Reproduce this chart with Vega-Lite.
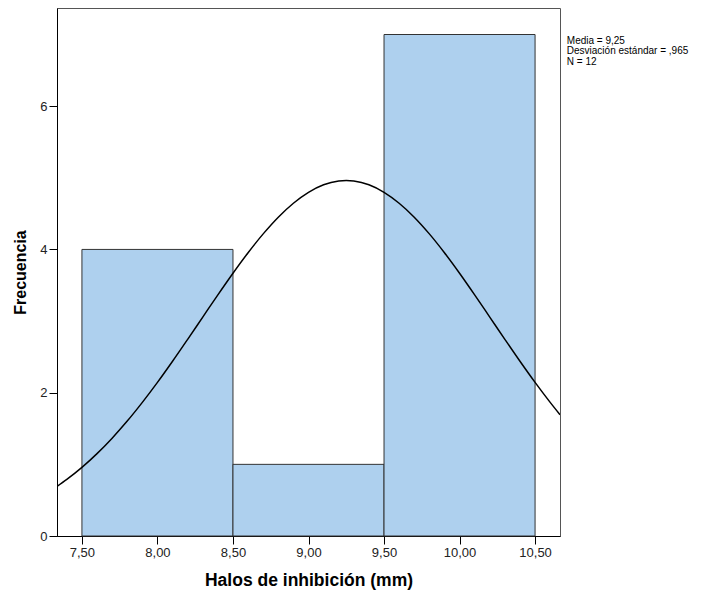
{
  "$schema": "https://vega.github.io/schema/vega-lite/v6.json",
  "width": 503,
  "height": 528,
  "autosize": {"type": "none"},
  "padding": {"left": 57, "top": 8, "right": 168, "bottom": 58},
  "background": "white",
  "config": {
    "font": "Liberation Sans",
    "view": {"stroke": "#555555", "strokeWidth": 1},
    "axis": {"grid": false, "domainColor": "#000000", "tickColor": "#000000", "labelColor": "#222222", "labelFontSize": 13, "titleFontWeight": "bold", "titleColor": "#000000", "tickSize": 8}
  },
  "datasets": {
    "bins": [
      {"start": 7.5, "end": 8.5, "count": 4},
      {"start": 8.5, "end": 9.5, "count": 1},
      {"start": 9.5, "end": 10.5, "count": 7}
    ],
    "curve": [
      {"x": 7.335, "y": 0.692},
      {"x": 7.4, "y": 0.790},
      {"x": 7.5, "y": 0.958},
      {"x": 7.6, "y": 1.150},
      {"x": 7.7, "y": 1.366},
      {"x": 7.8, "y": 1.604},
      {"x": 7.9, "y": 1.865},
      {"x": 8.0, "y": 2.144},
      {"x": 8.1, "y": 2.439},
      {"x": 8.2, "y": 2.745},
      {"x": 8.3, "y": 3.056},
      {"x": 8.4, "y": 3.366},
      {"x": 8.5, "y": 3.668},
      {"x": 8.6, "y": 3.954},
      {"x": 8.7, "y": 4.217},
      {"x": 8.8, "y": 4.450},
      {"x": 8.9, "y": 4.645},
      {"x": 9.0, "y": 4.797},
      {"x": 9.1, "y": 4.902},
      {"x": 9.2, "y": 4.954},
      {"x": 9.25, "y": 4.961},
      {"x": 9.3, "y": 4.954},
      {"x": 9.4, "y": 4.902},
      {"x": 9.5, "y": 4.797},
      {"x": 9.6, "y": 4.645},
      {"x": 9.7, "y": 4.450},
      {"x": 9.8, "y": 4.217},
      {"x": 9.9, "y": 3.954},
      {"x": 10.0, "y": 3.668},
      {"x": 10.1, "y": 3.366},
      {"x": 10.2, "y": 3.056},
      {"x": 10.3, "y": 2.745},
      {"x": 10.4, "y": 2.439},
      {"x": 10.5, "y": 2.144},
      {"x": 10.6, "y": 1.865},
      {"x": 10.665, "y": 1.693}
    ]
  },
  "layer": [
    {
      "data": {"name": "bins"},
      "mark": {"type": "rect", "fill": "#aed0ee", "stroke": "#333333", "strokeWidth": 1},
      "encoding": {
        "x": {"field": "start", "type": "quantitative", "scale": {"domain": [7.335, 10.665], "nice": false, "zero": false},
          "axis": {"title": "Halos de inhibición (mm)", "titleFontSize": 17.5, "values": [7.5, 8.0, 8.5, 9.0, 9.5, 10.0, 10.5], "labelExpr": "replace(format(datum.value, '.2f'), '.', ',')", "titlePadding": 12, "labelPadding": 2}},
        "x2": {"field": "end"},
        "y": {"field": "count", "type": "quantitative", "scale": {"domain": [0, 7.37], "nice": false},
          "axis": {"title": "Frecuencia", "titleFontSize": 16, "values": [0, 2, 4, 6], "format": "d", "titlePadding": 11, "labelPadding": 2}},
        "y2": {"datum": 0}
      }
    },
    {
      "data": {"name": "curve"},
      "mark": {"type": "line", "color": "#000000", "strokeWidth": 1.5, "interpolate": "monotone", "clip": true},
      "encoding": {
        "x": {"field": "x", "type": "quantitative"},
        "y": {"field": "y", "type": "quantitative"}
      }
    },
    {
      "data": {"values": [{}]},
      "mark": {"type": "text", "align": "left", "baseline": "top", "fontSize": 10, "lineHeight": 10.5, "color": "#000000",
        "text": ["Media = 9,25", "Desviación estándar = ,965", "N = 12"]},
      "encoding": {
        "x": {"datum": 10.71, "type": "quantitative"},
        "y": {"datum": 6.98, "type": "quantitative"}
      }
    }
  ]
}
